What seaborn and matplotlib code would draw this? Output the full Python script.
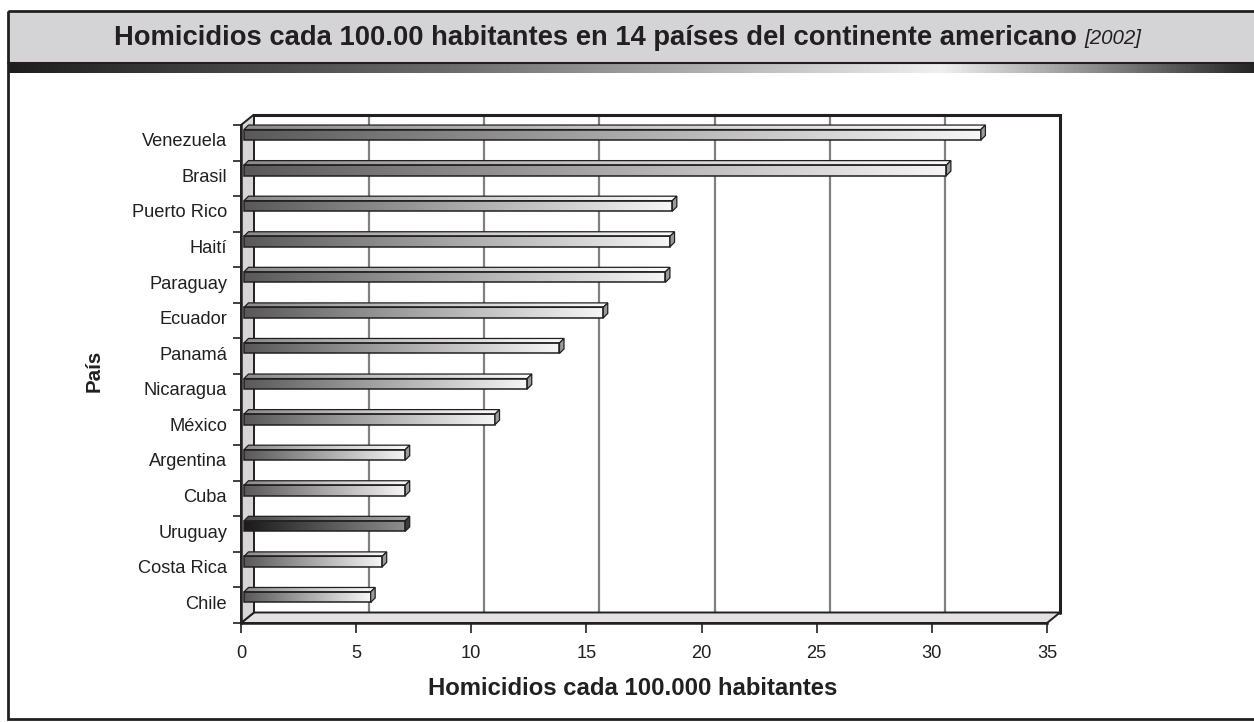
import numpy as np
import pandas as pd
import matplotlib
matplotlib.use("Agg")
import matplotlib.pyplot as plt
from matplotlib import font_manager as fm
from matplotlib.patches import Polygon, Rectangle
from matplotlib.colors import LinearSegmentedColormap
from matplotlib.transforms import ScaledTranslation
import seaborn as sns

# ---- data -------------------------------------------------------------
paises = ["Venezuela", "Brasil", "Puerto Rico", "Haití", "Paraguay", "Ecuador",
          "Panamá", "Nicaragua", "México", "Argentina", "Cuba", "Uruguay",
          "Costa Rica", "Chile"]
tasas = [32.0, 30.5, 18.6, 18.5, 18.3, 15.6, 13.7, 12.3, 10.9, 7.0, 7.0, 7.0, 6.0, 5.5]
destacado = "Uruguay"
x_ticks = [0, 5, 10, 15, 20, 25, 30, 35]

titulo = "Homicidios cada 100.00 habitantes en 14 países del continente americano"
titulo_anio = "[2002]"
x_label = "Homicidios cada 100.000 habitantes"
y_label = "País"

df = pd.DataFrame({"pais": paises, "tasa": tasas})

# ---- fonts: a narrow sans if there is one -------------------------------
try:
    fm.findfont("Liberation Sans Narrow", fallback_to_default=False)
    family = ["Liberation Sans Narrow", "DejaVu Sans"]
    k = 1.0
except ValueError:
    family = ["Liberation Sans", "DejaVu Sans"]
    k = 0.82

# ---- figure -----------------------------------------------------------
W, H = 1254, 722
sns.set_theme(style="white")
plt.rcParams["font.family"] = family
fig = plt.figure(figsize=(W / 100, H / 100), dpi=100)
fig.patch.set_facecolor("white")

# background layer in pixel units (origin top-left)
bg = fig.add_axes([0, 0, 1, 1], zorder=0)
bg.axis("off")

ink = "#231f20"
bg.add_patch(Rectangle((8, 11), W, 52, facecolor="#d4d4d6", edgecolor="none"))
band = LinearSegmentedColormap.from_list(
    "band", [(0, "#1e1e1e"), (0.35, "#6a6a6a"), (0.75, "#f0f0f0"), (1, "#262626")])
bg.imshow(np.linspace(0, 1, 512)[None, :], cmap=band, aspect="auto",
          extent=(8, W, 73, 63), zorder=1)
bg.plot([8, W], [63, 63], color=ink, lw=1.5, zorder=2)
bg.add_patch(Rectangle((8, 11), W + 10, 708, fill=False, edgecolor=ink, lw=2, zorder=3))
bg.set_xlim(0, W)
bg.set_ylim(H, 0)

t1 = bg.text(0, 38, titulo + " ", fontsize=24 * k, fontweight="bold", color=ink,
             ha="left", va="center")
t2 = bg.text(0, 38, titulo_anio, fontsize=18 * k, fontstyle="italic", color=ink,
             ha="left", va="center")
fig.canvas.draw()
r = fig.canvas.get_renderer()
w1 = t1.get_window_extent(r).width
w2 = t2.get_window_extent(r).width
x_start = 628 - (w1 + w2) / 2
t1.set_x(x_start)
t2.set_x(x_start + w1)

# ---- main axes: front plane of the chart --------------------------------
fx0, fx1 = 241, 1047          # front plane x (pixels)
fy0, fy1 = 125, 623           # front plane y top / bottom (pixels)
ax = fig.add_axes([fx0 / W, (H - fy1) / H, (fx1 - fx0) / W, (fy1 - fy0) / H], zorder=2)
ax.patch.set_alpha(0)

n = len(paises)
bar_h = 10.5 / ((fy1 - fy0) / n)
sns.barplot(data=df, x="tasa", y="pais", orient="h", ax=ax, width=bar_h,
            color="#888888", saturation=1, edgecolor="none")
bars = list(ax.patches)

ax.set_xlim(0, 35)
ax.set_ylim(n - 0.5, -0.5)
sx = 35 / (fx1 - fx0)        # data units per pixel, x
sy = n / (fy1 - fy0)         # data units per pixel, y (down)


def P(x, y, dx=0.0, dy=0.0):
    """Point in data coords, shifted dx px right and dy px up."""
    return (x + dx * sx, y - dy * sy)


DX, DY = 13, 10.5            # depth of the chart box in pixels
y_top, y_bot = -0.5, n - 0.5

# back wall
wall = Polygon([P(0, y_top, DX, DY), P(35, y_top, DX, DY), P(35, y_bot, DX, DY),
                P(0, y_bot, DX, DY)], closed=True, facecolor="white",
               edgecolor="none", zorder=0.5, clip_on=False)
ax.add_patch(wall)
for xv in x_ticks[1:-1]:
    a, b = P(xv, y_top, DX, DY), P(xv, y_bot, DX, DY)
    ax.plot([a[0], b[0]], [a[1], b[1]], color="#808080", lw=1.6, zorder=0.6, clip_on=False)
a, b, c = P(0, y_top, DX, DY), P(35, y_top, DX, DY), P(35, y_bot, DX, DY)
ax.plot([a[0], b[0], c[0]], [a[1], b[1], c[1]], color=ink, lw=2.2, zorder=0.7,
        clip_on=False, solid_joinstyle="miter")

# floor
floor = Polygon([P(0, y_bot), P(35, y_bot), P(35, y_bot, DX, DY), P(0, y_bot, DX, DY)],
                closed=True, facecolor="#e2e2e2", edgecolor=ink, lw=1.4,
                zorder=0.8, clip_on=False)
ax.add_patch(floor)
# left wall
lwall = Polygon([P(0, y_top), P(0, y_bot), P(0, y_bot, DX, DY), P(0, y_top, DX, DY)],
                closed=True, facecolor="#d6d6d6", edgecolor=ink, lw=1.4,
                zorder=0.9, clip_on=False)
ax.add_patch(lwall)

# ---- bars with a horizontal shade and 3-D faces ---------------------------
light = LinearSegmentedColormap.from_list("light", ["#595959", "#a8a8a8", "#f6f6f6"])
light_top = LinearSegmentedColormap.from_list("light_top", ["#8a8a8a", "#c8c8c8", "#fbfbfb"])
dark = LinearSegmentedColormap.from_list("dark", ["#1a1a1a", "#555555", "#8e8e8e"])
dark_top = LinearSegmentedColormap.from_list("dark_top", ["#4a4a4a", "#7a7a7a", "#a8a8a8"])
grad = np.linspace(0, 1, 256)[None, :]
BX, BY = 3, 8                # offset of the bar front faces
DD = 4.5                     # bar depth in pixels

for patch, pais in zip(bars, paises):
    patch.set_x(patch.get_x() + BX * sx)
    patch.set_y(patch.get_y() - BY * sy)
    x0 = patch.get_x()
    x1 = x0 + patch.get_width()
    yt = patch.get_y()
    yb = yt + patch.get_height()
    front_cm, top_cm, side_c = (dark, dark_top, "#3c3c3c") if pais == destacado \
        else (light, light_top, "#9a9a9a")
    patch.set_facecolor("none")
    patch.set_zorder(3)
    im = ax.imshow(grad, cmap=front_cm, aspect="auto", extent=(x0, x1, yb, yt),
                   zorder=2.9, interpolation="bilinear")
    im.set_clip_path(patch)
    patch.set_edgecolor(ink)
    patch.set_linewidth(1.1)

    top = Polygon([(x0, yt), (x1, yt), P(x1, yt, DD, DD), P(x0, yt, DD, DD)],
                  closed=True, facecolor="none", edgecolor=ink, lw=0.9, zorder=3,
                  clip_on=False)
    ax.add_patch(top)
    imt = ax.imshow(grad, cmap=top_cm, aspect="auto",
                    extent=(x0, x1 + DD * sx, yt, yt - DD * sy), zorder=2.9,
                    interpolation="bilinear")
    imt.set_clip_path(top)
    side = Polygon([(x1, yt), (x1, yb), P(x1, yb, DD, DD), P(x1, yt, DD, DD)],
                   closed=True, facecolor=side_c, edgecolor=ink, lw=0.9, zorder=3.1,
                   clip_on=False)
    ax.add_patch(side)

ax.set_xlim(0, 35)
ax.set_ylim(n - 0.5, -0.5)

# ---- axes, ticks and labels ---------------------------------------------
for s in ["top", "right"]:
    ax.spines[s].set_visible(False)
for s in ["left", "bottom"]:
    ax.spines[s].set_color(ink)
    ax.spines[s].set_linewidth(1.8)
    ax.spines[s].set_zorder(4)

ax.set_xticks(x_ticks)
ax.set_xticklabels([str(v) for v in x_ticks])
ax.set_yticks(range(n))
ax.set_yticks(np.arange(-0.5, n, 1.0), minor=True)
ax.tick_params(axis="x", which="major", direction="out", length=7.2, width=1.2,
               color=ink, labelsize=16 * k, labelcolor=ink, pad=9, bottom=True)
ax.tick_params(axis="y", which="major", length=0, labelsize=16 * k, labelcolor=ink, pad=10)
ax.tick_params(axis="y", which="minor", direction="out", length=5.8, width=1.2,
               color=ink, left=True)
lift = ScaledTranslation(0, 0.03, fig.dpi_scale_trans)
for lbl in ax.get_yticklabels():
    lbl.set_transform(lbl.get_transform() + lift)

ax.set_xlabel(x_label, fontsize=21 * k, fontweight="bold", color=ink)
ax.xaxis.set_label_coords((633 - fx0) / (fx1 - fx0), -(677 - fy1) / (fy1 - fy0))
ax.set_ylabel(y_label, fontsize=18 * k, fontweight="bold", color=ink)
ax.yaxis.set_label_coords(-(fx0 - 104) / (fx1 - fx0), (fy1 - 371) / (fy1 - fy0))
ax.grid(False)

fig.savefig("out.png", dpi=100)
